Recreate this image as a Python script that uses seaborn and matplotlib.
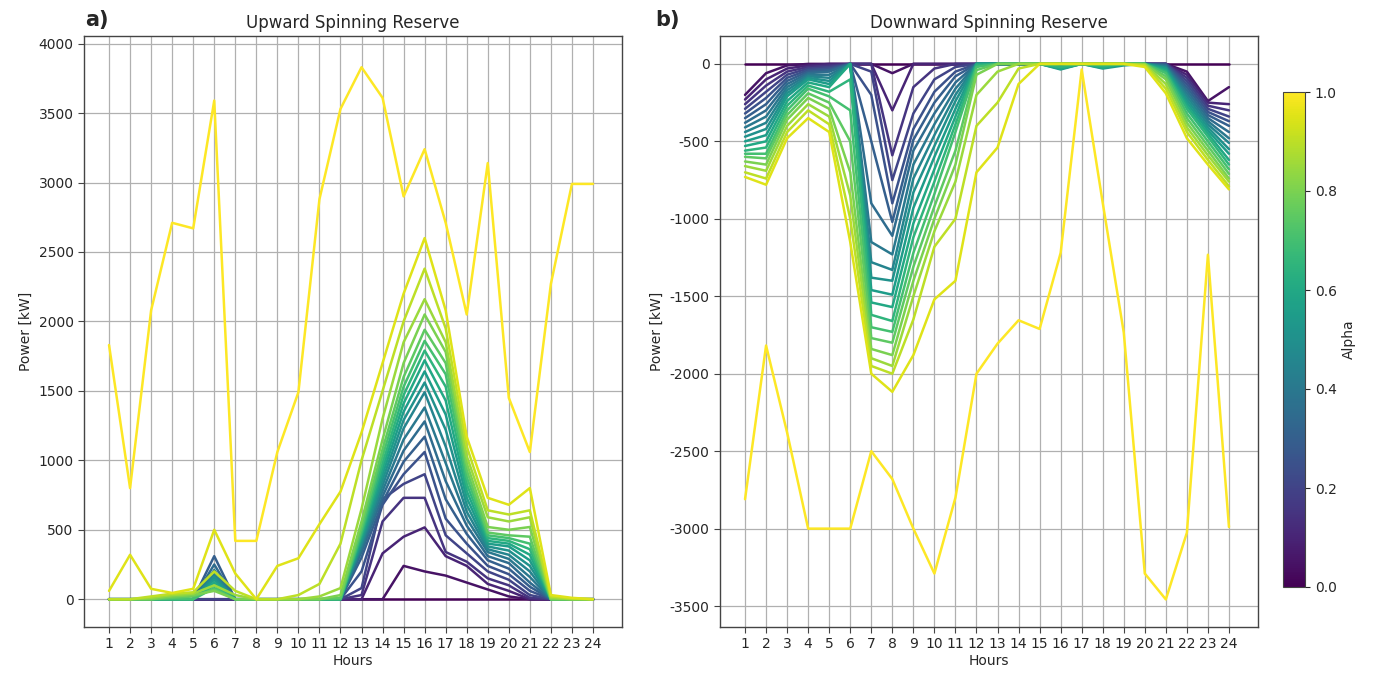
import matplotlib
matplotlib.use("Agg")
import matplotlib.pyplot as plt
import pandas as pd
import seaborn as sns
from matplotlib.colors import Normalize
from matplotlib.cm import ScalarMappable

hours = [1, 2, 3, 4, 5, 6, 7, 8, 9, 10, 11, 12, 13, 14, 15, 16, 17, 18, 19, 20, 21, 22, 23, 24]
alpha_levels = [0.0, 0.05, 0.1, 0.15, 0.2, 0.25, 0.3, 0.35, 0.4, 0.45, 0.5,
                0.55, 0.6, 0.65, 0.7, 0.75, 0.8, 0.85, 0.9, 0.95, 1.0]

# ---- Upward spinning reserve (kW) ----
up_a00 = [0, 0, 0, 0, 0, 0, 0, 0, 0, 0, 0, 0, 0, 0, 0, 0, 0, 0, 0, 0, 0, 0, 0, 0]
up_a01 = [0, 0, 0, 0, 0, 0, 0, 0, 0, 0, 0, 0, 0, 0, 240, 200, 170, 120, 70, 20, 0, 0, 0, 0]
up_a02 = [0, 0, 0, 0, 0, 0, 0, 0, 0, 0, 0, 0, 0, 330, 450, 517, 310, 240, 110, 60, 0, 0, 0, 0]
up_a03 = [0, 0, 0, 0, 0, 0, 0, 0, 0, 0, 0, 0, 30, 560, 730, 730, 340, 270, 150, 100, 10, 0, 0, 0]
up_a04 = [0, 0, 0, 0, 0, 0, 0, 0, 0, 0, 0, 0, 80, 720, 830, 900, 460, 330, 200, 140, 30, 0, 0, 0]
up_a05 = [0, 0, 0, 0, 0, 150, 0, 0, 0, 0, 0, 0, 200, 680, 900, 1060, 580, 400, 240, 180, 60, 0, 0, 0]
up_a06 = [0, 0, 0, 0, 0, 310, 0, 0, 0, 0, 0, 0, 300, 700, 990, 1170, 720, 470, 280, 220, 90, 0, 0, 0]
up_a07 = [0, 0, 0, 0, 0, 250, 0, 0, 0, 0, 0, 0, 340, 740, 1070, 1280, 850, 530, 310, 260, 120, 0, 0, 0]
up_a08 = [0, 0, 0, 0, 0, 210, 0, 0, 0, 0, 0, 0, 370, 780, 1150, 1380, 980, 580, 340, 290, 160, 0, 0, 0]
up_a09 = [0, 0, 0, 0, 0, 180, 0, 0, 0, 0, 0, 0, 390, 820, 1230, 1490, 1100, 630, 360, 320, 200, 0, 0, 0]
up_a10 = [0, 0, 0, 0, 0, 160, 0, 0, 0, 0, 0, 0, 410, 860, 1290, 1560, 1220, 680, 380, 350, 240, 0, 0, 0]
up_a11 = [0, 0, 0, 0, 0, 140, 0, 0, 0, 0, 0, 0, 430, 900, 1350, 1640, 1330, 730, 400, 380, 280, 0, 0, 0]
up_a12 = [0, 0, 0, 0, 0, 120, 0, 0, 0, 0, 0, 0, 450, 940, 1410, 1720, 1430, 780, 420, 400, 320, 0, 0, 0]
up_a13 = [0, 0, 0, 0, 0, 100, 0, 0, 0, 0, 0, 0, 470, 980, 1470, 1790, 1530, 830, 440, 420, 360, 0, 0, 0]
up_a14 = [0, 0, 0, 0, 0, 80, 0, 0, 0, 0, 0, 0, 490, 1030, 1530, 1860, 1620, 880, 460, 440, 400, 0, 0, 0]
up_a15 = [0, 0, 0, 10, 20, 70, 0, 0, 0, 0, 0, 10, 520, 1080, 1600, 1940, 1700, 930, 480, 460, 450, 0, 0, 0]
up_a16 = [0, 0, 0, 20, 30, 60, 0, 0, 0, 0, 0, 30, 560, 1150, 1700, 2050, 1780, 980, 520, 500, 520, 0, 0, 0]
up_a17 = [0, 0, 10, 30, 40, 100, 30, 0, 0, 0, 20, 80, 650, 1300, 1850, 2160, 1850, 1030, 590, 560, 590, 10, 0, 0]
up_a18 = [0, 0, 20, 40, 50, 200, 60, 0, 0, 30, 110, 400, 1000, 1500, 2000, 2380, 1950, 1100, 640, 610, 640, 20, 5, 0]
up_a19 = [60, 320, 75, 45, 75, 500, 185, 0, 240, 295, 540, 775, 1200, 1700, 2200, 2600, 2080, 1170, 730, 680, 800, 30, 10, 0]
up_a20 = [1830, 800, 2080, 2710, 2670, 3590, 420, 420, 1060, 1490, 2880, 3530, 3830, 3610, 2900, 3240, 2710, 2050, 3140, 1450, 1060, 2270, 2990, 2990]

# ---- Downward spinning reserve (kW) ----
dn_a00 = [0, 0, 0, 0, 0, 0, 0, 0, 0, 0, 0, 0, 0, 0, 0, 0, 0, 0, 0, 0, 0, 0, 0, 0]
dn_a01 = [-200, -60, -10, 0, 0, 0, 0, -60, 0, 0, 0, 0, 0, 0, 0, 0, 0, 0, 0, 0, 0, -50, -240, -150]
dn_a02 = [-230, -100, -30, -10, 0, 0, 0, -300, 0, 0, 0, 0, 0, 0, 0, 0, 0, 0, 0, 0, 0, -70, -250, -260]
dn_a03 = [-260, -140, -50, -20, -10, 0, 0, -590, -150, -30, 0, 0, 0, 0, 0, 0, 0, 0, 0, 0, 0, -90, -270, -300]
dn_a04 = [-290, -180, -70, -30, -20, 0, -50, -750, -320, -100, -20, 0, 0, 0, 0, 0, 0, 0, 0, 0, 0, -110, -290, -340]
dn_a05 = [-320, -220, -90, -40, -30, 0, -200, -900, -420, -180, -50, 0, 0, 0, 0, 0, 0, 0, 0, 0, 0, -130, -310, -370]
dn_a06 = [-350, -260, -110, -50, -40, 0, -500, -1020, -490, -250, -80, 0, 0, 0, 0, 0, 0, 0, 0, 0, -5, -150, -330, -400]
dn_a07 = [-380, -300, -130, -60, -50, 0, -900, -1110, -560, -320, -120, 0, 0, 0, 0, 0, 0, 0, 0, 0, -10, -170, -350, -440]
dn_a08 = [-410, -340, -150, -70, -70, 0, -1150, -1230, -650, -390, -160, 0, 0, 0, 0, 0, 0, 0, 0, 0, -15, -190, -370, -480]
dn_a09 = [-440, -380, -170, -80, -90, 0, -1280, -1330, -740, -460, -200, 0, 0, 0, 0, -10, 0, -10, 0, 0, -20, -210, -390, -510]
dn_a10 = [-470, -420, -190, -90, -110, 0, -1380, -1400, -830, -530, -240, 0, 0, 0, 0, -30, 0, -20, 0, 0, -25, -230, -410, -550]
dn_a11 = [-500, -460, -210, -100, -130, 0, -1460, -1490, -930, -600, -290, 0, 0, 0, 0, -36, 0, -30, -10, 0, -30, -250, -430, -580]
dn_a12 = [-530, -500, -240, -120, -150, 0, -1540, -1570, -1030, -680, -340, 0, 0, 0, 0, -30, 0, -25, 0, 0, -40, -270, -450, -620]
dn_a13 = [-560, -540, -270, -140, -180, -100, -1620, -1660, -1120, -760, -390, -10, 0, 0, 0, -20, 0, -15, 0, 0, -50, -290, -470, -650]
dn_a14 = [-580, -580, -300, -160, -210, -300, -1700, -1730, -1220, -840, -440, -20, 0, 0, 0, 0, 0, 0, 0, 0, -60, -320, -500, -680]
dn_a15 = [-600, -610, -330, -190, -250, -500, -1770, -1800, -1310, -920, -560, -40, 0, 0, 0, 0, 0, 0, 0, 0, -80, -350, -530, -710]
dn_a16 = [-630, -650, -360, -220, -290, -700, -1840, -1880, -1400, -1000, -650, -70, 0, 0, 0, 0, 0, 0, 0, 0, -100, -380, -560, -740]
dn_a17 = [-660, -690, -400, -260, -340, -850, -1900, -1950, -1500, -1080, -760, -200, -50, 0, 0, 0, 0, 0, 0, -5, -130, -410, -590, -760]
dn_a18 = [-700, -740, -440, -300, -390, -1000, -1950, -2000, -1650, -1180, -1000, -400, -250, -30, 0, 0, 0, 0, 0, -10, -160, -440, -620, -790]
dn_a19 = [-730, -780, -480, -350, -440, -1150, -2000, -2117, -1880, -1520, -1400, -700, -540, -130, 0, 0, 0, 0, 0, -20, -190, -480, -650, -810]
dn_a20 = [-2810, -1818, -2380, -3000, -3000, -3000, -2500, -2680, -3000, -3290, -2800, -2000, -1806, -1655, -1711, -1220, -36, -897, -1734, -3290, -3457, -3026, -1232, -2990]

up_series = [up_a00, up_a01, up_a02, up_a03, up_a04, up_a05, up_a06, up_a07, up_a08, up_a09, up_a10,
             up_a11, up_a12, up_a13, up_a14, up_a15, up_a16, up_a17, up_a18, up_a19, up_a20]
dn_series = [dn_a00, dn_a01, dn_a02, dn_a03, dn_a04, dn_a05, dn_a06, dn_a07, dn_a08, dn_a09, dn_a10,
             dn_a11, dn_a12, dn_a13, dn_a14, dn_a15, dn_a16, dn_a17, dn_a18, dn_a19, dn_a20]

up_ticks = [0, 500, 1000, 1500, 2000, 2500, 3000, 3500, 4000]
dn_ticks = [-3500, -3000, -2500, -2000, -1500, -1000, -500, 0]
cbar_ticks = [0.0, 0.2, 0.4, 0.6, 0.8, 1.0]


def long_frame(series):
    rows = []
    for a, vals in zip(alpha_levels, series):
        for h, v in zip(hours, vals):
            rows.append((h, v, a))
    return pd.DataFrame(rows, columns=["Hours", "Power", "Alpha"])


sns.set_style("ticks")
plt.rcParams["font.family"] = ["DejaVu Sans"]

W, H = 1386, 677
fig = plt.figure(figsize=(W / 100, H / 100), dpi=100)


def box(x0, y0, x1, y1):
    return [x0 / W, 1 - y1 / H, (x1 - x0) / W, (y1 - y0) / H]


ax1 = fig.add_axes(box(84, 36, 622, 627))
ax2 = fig.add_axes(box(720, 36, 1258, 627))
cax = fig.add_axes(box(1283, 92, 1305, 587))

norm = Normalize(vmin=0.0, vmax=1.0)

panels = [
    (ax1, up_series, "Upward Spinning Reserve", up_ticks, (-200, 4055)),
    (ax2, dn_series, "Downward Spinning Reserve", dn_ticks, (-3635, 180)),
]
for ax, series, title, yt, ylim in panels:
    df = long_frame(series)
    sns.lineplot(data=df, x="Hours", y="Power", hue="Alpha", palette="viridis",
                 hue_norm=norm, estimator=None, legend=False, linewidth=1.8, ax=ax)
    ax.set_xticks(hours)
    ax.set_xticklabels([str(h) for h in hours], fontsize=10)
    ax.set_yticks(yt)
    ax.set_yticklabels([str(v) for v in yt], fontsize=10)
    ax.set_xlim(-0.19, 25.38)
    ax.set_ylim(*ylim)
    ax.grid(True, color="#b0b0b0", linewidth=0.9)
    ax.set_axisbelow(True)
    ax.set_title(title, fontsize=12, pad=6)
    ax.set_xlabel("Hours", fontsize=10, labelpad=2)
    ax.set_ylabel("Power [kW]", fontsize=10)
    for s in ax.spines.values():
        s.set_color("#444444")
        s.set_linewidth(1.0)
    ax.tick_params(length=4, color="#444444")

fig.text(85 / W, 1 - 20 / H, "a)", fontsize=15, fontweight="bold", va="center", ha="left")
fig.text(655 / W, 1 - 20 / H, "b)", fontsize=15, fontweight="bold", va="center", ha="left")

sm = ScalarMappable(norm=norm, cmap="viridis")
sm.set_array([])
cb = fig.colorbar(sm, cax=cax, ticks=cbar_ticks)
cb.set_label("Alpha", fontsize=10)
cb.ax.tick_params(labelsize=10)
cb.outline.set_edgecolor("#444444")

fig.savefig("out.png", dpi=100)
